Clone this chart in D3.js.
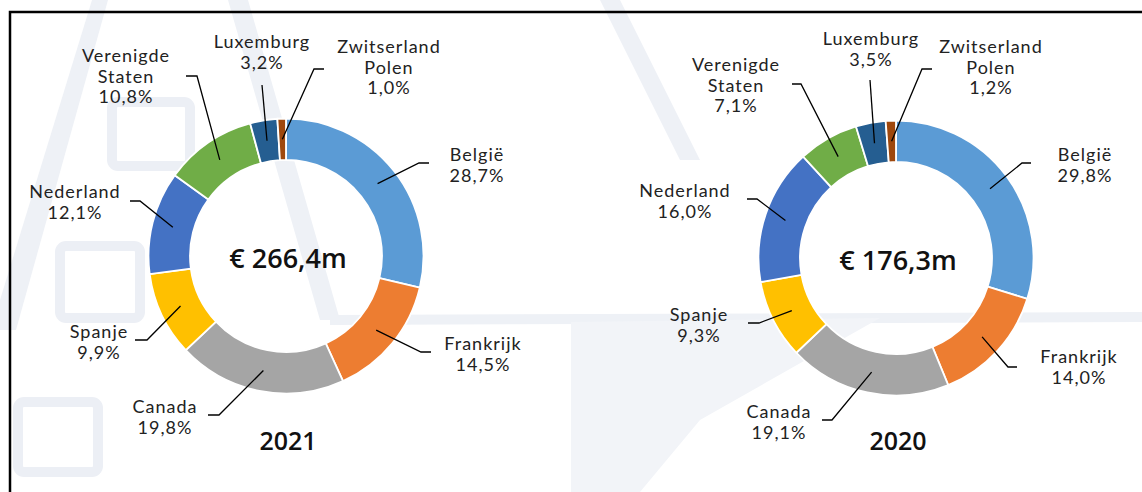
<!DOCTYPE html>
<html>
<head>
<meta charset="utf-8">
<script src="https://cdn.jsdelivr.net/npm/d3@7"></script>
<style>
  body { margin: 0; background: #fff; }
  svg { display: block; }
  .lbl { font-family: Lato, "Open Sans", sans-serif; font-size: 18px; letter-spacing: 1px; fill: #222; }
  .big { font-family: "Open Sans", Lato, sans-serif; font-weight: 600; fill: #111; }
</style>
</head>
<body>
<div id="graf"></div>
<script>
// Data
landen = ['België', 'Frankrijk', 'Canada', 'Spanje', 'Nederland', 'Verenigde\nStaten', 'Luxemburg', 'Zwitserland\nPolen']
waarden2021 = [28.7, 14.5, 19.8, 9.9, 12.1, 10.8, 3.2, 1.0]
waarden2020 = [29.8, 14.0, 19.1, 9.3, 16.0, 7.1, 3.5, 1.2]
totalen = [266.4, 176.3]
jaren = ['2021', '2020']

ancho_total = 1142
alto_total = 492

color = d3.scaleOrdinal()
          .domain(landen)
          .range(['#5b9bd5', '#ed7d31', '#a5a5a5', '#ffc000', '#4472c4', '#70ad47', '#255e91', '#9e480e'])

// label layout: [start of leader, knee, text x, first baseline]
layout2021 = [
  [[429, 163], [419, 163], 477, 161],
  [[431, 352], [421, 352], 483, 350],
  [[208, 415], [219, 415], 165, 413],
  [[135, 340], [147, 340], 99, 338],
  [[130, 201], [140, 201], 75, 198],
  [[186, 76], [197, 76], 126, 62],
  [[262, 85], [262, 85], 262, 48],
  [[324, 69], [314, 69], 389, 53]
]
layout2020 = [
  [[1031, 163], [1022, 163], 1085, 161],
  [[1017, 367], [1008, 367], 1079, 363],
  [[822, 420], [832, 420], 779, 418],
  [[748, 323], [759, 323], 699, 321],
  [[747, 199], [757, 199], 685, 197],
  [[792, 84], [801, 84], 736, 71],
  [[870, 80], [870, 80], 871, 45],
  [[932, 69], [922, 69], 991, 53]
]

svg = d3.select('#graf').append('svg')
        .attr('width', ancho_total)
        .attr('height', alto_total)

// faint watermark in the background
wm = svg.append('g').attr('fill', '#eef1f6')
wm.append('path').attr('d', 'M92,0 L108,0 L16,330 L0,330 L0,300 Z')
wm.append('path').attr('d', 'M228,0 L248,0 L340,320 L320,320 Z')
wm.append('path').attr('d', 'M600,0 L620,0 L700,160 L680,160 Z')
wm.append('rect').attr('x', 112).attr('y', 102).attr('width', 78).attr('height', 64).attr('rx', 6)
  .attr('fill', 'none').attr('stroke', '#eceff5').attr('stroke-width', 10)
wm.append('rect').attr('x', 60).attr('y', 246).attr('width', 80).attr('height', 72).attr('rx', 6)
  .attr('fill', 'none').attr('stroke', '#eceff5').attr('stroke-width', 10)
wm.append('rect').attr('x', 18).attr('y', 402).attr('width', 80).attr('height', 70).attr('rx', 6)
  .attr('fill', 'none').attr('stroke', '#eceff5').attr('stroke-width', 10)
wm.append('path').attr('d', 'M330,315 L1142,312 L1142,322 L330,325 Z')
wm.append('path').attr('d', 'M571,322 L880,318 L700,420 L640,492 L571,492 Z').attr('fill', '#f2f4f8')

// frame
svg.append('path')
   .attr('d', 'M10,492 L10,12 L1142,12')
   .attr('fill', 'none')
   .attr('stroke', '#000')
   .attr('stroke-width', 2.5)

pie = d3.pie().sort(null).value(d => d)
arc = d3.arc().innerRadius(96).outerRadius(137.5)
fmt = v => d3.format('.1f')(v).replace('.', ',') + '%'

function donut(waarden, layout, cx, cy, totaal, jaar) {
  const g = svg.append('g')
  const arcs = pie(waarden)

  g.append('g')
   .attr('transform', `translate(${cx}, ${cy})`)
   .selectAll('path')
   .data(arcs)
   .enter().append('path')
   .attr('d', arc)
   .attr('fill', (d, i) => color(landen[i]))
   .attr('stroke', '#fff')
   .attr('stroke-width', 1.8)

  arcs.forEach((d, i) => {
    const c = arc.centroid(d)
    const p = [cx + c[0], cy + c[1]]
    const l = layout[i]
    g.append('polyline')
     .attr('points', [l[0], l[1], p].map(q => q.join(',')).join(' '))
     .attr('fill', 'none')
     .attr('stroke', '#000')
     .attr('stroke-width', 1.3)

    const lines = landen[i].split('\n').concat([fmt(waarden[i])])
    const t = g.append('text')
               .attr('class', 'lbl')
               .attr('text-anchor', 'middle')
    lines.forEach((s, k) => {
      t.append('tspan').attr('x', l[2]).attr('y', l[3] + k * 20.5).text(s)
    })
  })

  g.append('text')
   .attr('class', 'big')
   .attr('x', cx + 2)
   .attr('y', cy + 12)
   .attr('text-anchor', 'middle')
   .style('font-size', '27px')
   .text('€ ' + d3.format('.1f')(totaal).replace('.', ',') + 'm')

  g.append('text')
   .attr('class', 'big')
   .attr('x', cx + 2)
   .attr('y', 450)
   .attr('text-anchor', 'middle')
   .style('font-size', '25px')
   .text(jaar)
}

donut(waarden2021, layout2021, 286, 256, totalen[0], jaren[0])
donut(waarden2020, layout2020, 896, 258, totalen[1], jaren[1])
</script>
</body>
</html>
